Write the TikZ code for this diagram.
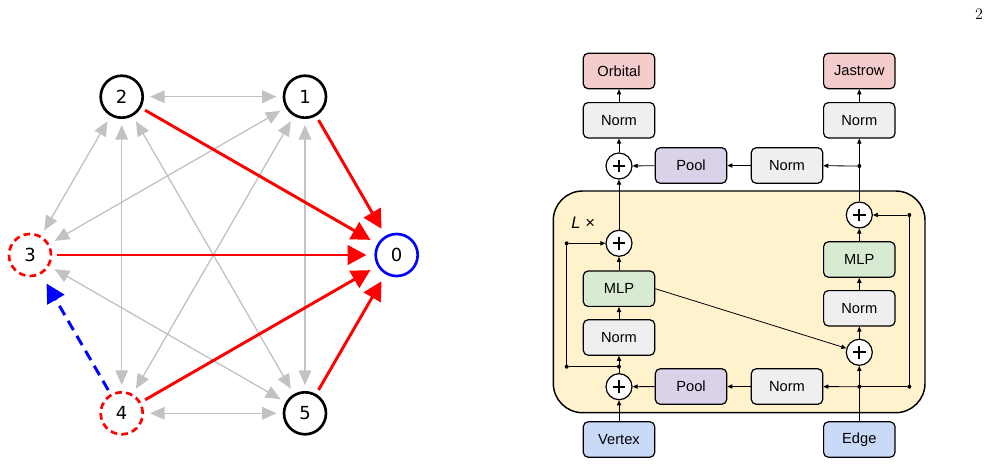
\documentclass[tikz,border=0pt]{standalone}
\usepackage{fontspec}
\newfontfamily\arialf{Liberation Sans}
\newfontfamily\dejavu{DejaVu Sans}
\usetikzlibrary{arrows.meta,calc}
\definecolor{cOrb}{HTML}{F4CCCC}
\definecolor{cNorm}{HTML}{EFEFEF}
\definecolor{cPool}{HTML}{D9D2E9}
\definecolor{cMLP}{HTML}{D9EAD3}
\definecolor{cIn}{HTML}{C9DAF8}
\definecolor{cYel}{HTML}{FFF2CC}
\definecolor{cGray}{HTML}{C2C2C2}
\definecolor{cRed}{HTML}{FF0000}
\definecolor{cBlue}{HTML}{0000FF}
\tikzset{
  gnode/.style={circle, draw=black, fill=white, line width=2pt, minimum size=31.5pt, inner sep=0pt, outer sep=0pt, font=\dejavu\fontsize{13.5}{14}\selectfont},
  rnode/.style={gnode, draw=cRed, dash pattern=on 5pt off 3.2pt},
  bnode/.style={gnode, draw=cBlue},
  gedge/.style={cGray, line width=1pt, {Triangle[length=11pt,width=9.5pt]}-{Triangle[length=11pt,width=9.5pt]}, shorten <=5.5pt, shorten >=5.5pt},
  redge/.style={cRed, line width=2.2pt, -{Triangle[length=14pt,width=14.5pt]}, shorten <=4.5pt, shorten >=7pt},
  bedge/.style={cBlue, line width=2.2pt, dash pattern=on 8pt off 5pt, -{Triangle[length=14pt,width=14.5pt]}, shorten <=4.4pt, shorten >=9pt},
  box/.style={draw=black, line width=0.9pt, rounded corners=3.5pt, minimum width=53.5pt, minimum height=26.5pt, inner sep=0pt, font=\arialf\fontsize{11}{11}\selectfont},
  plusnode/.style={circle, draw=black, fill=white, line width=0.9pt, minimum size=19.5pt, inner sep=0pt,
    path picture={\draw[line width=1.5pt] ([xshift=-4.8pt]path picture bounding box.center) -- ([xshift=4.8pt]path picture bounding box.center);
                  \draw[line width=1.5pt] ([yshift=-4.8pt]path picture bounding box.center) -- ([yshift=4.8pt]path picture bounding box.center);}},
  dot/.style={circle, fill=black, minimum size=3pt, inner sep=0pt, outer sep=0pt},
  arr/.style={black, line width=0.6pt, -{Triangle[length=3.8pt,width=3.2pt]}},
  ln/.style={black, line width=0.6pt},
}
\begin{document}
\begin{tikzpicture}[x=0.75pt,y=-0.75pt]
\path[use as bounding box] (0,0) rectangle (990,465);
% page number
\node[font=\fontsize{12}{12}\selectfont] (pg) at (979,14) {2};
% ---------- left graph ----------
\node[gnode] (n2) at (121.7,96.7) {2};
\node[gnode] (n1) at (305,96.7) {1};
\node[rnode] (n3) at (30,255) {3};
\node[bnode] (n0) at (396.7,255) {0};
\node[rnode] (n4) at (121.7,413.3) {4};
\node[gnode] (n5) at (305,413.3) {5};
\draw[gedge] (n2) -- (n1);
\draw[gedge] (n2) -- (n3);
\draw[gedge] (n1) -- (n3);
\draw[gedge] (n2) -- (n4);
\draw[gedge] (n2) -- (n5);
\draw[gedge] (n1) -- (n4);
\draw[gedge] (n1) -- (n5);
\draw[gedge] (n3) -- (n5);
\draw[gedge] (n4) -- (n5);
\draw[redge] (n1) -- (n0);
\draw[redge] (n2) -- (n0);
\draw[redge] (n3) -- (n0);
\draw[redge] (n4) -- (n0);
\draw[redge] (n5) -- (n0);
\draw[bedge] (n4) -- (n3);
% ---------- right diagram ----------
\draw[fill=cYel, line width=1.1pt, rounded corners=22pt] (553.3,191) rectangle (925,412.7);
\node[font=\arialf\fontsize{12.5}{12.5}\selectfont] (lx) at (583.3,222.7) {{\itshape L} ×};
\node[box, fill=cOrb] (orb) at (619,71) {Orbital};
\node[box, fill=cOrb] (jas) at (859.3,71) {Jastrow};
\node[box, fill=cNorm] (normTL) at (619,120.3) {Norm};
\node[box, fill=cNorm] (normTR) at (859.3,120.3) {Norm};
\node[plusnode] (plusTL) at (619,166) {};
\node[box, fill=cPool] (poolT) at (691,165.5) {Pool};
\node[box, fill=cNorm] (normMT) at (787,165.5) {Norm};
\node[dot] (dotT) at (859.3,166) {};
\node[plusnode] (plusML) at (619,243.3) {};
\node[dot] (dotML) at (566.7,243.3) {};
\node[box, fill=cMLP] (mlpL) at (619,288.7) {MLP};
\node[box, fill=cNorm] (normL) at (619,337.5) {Norm};
\node[dot] (dotLB) at (619,366.7) {};
\node[dot] (dotLL) at (566.7,366.7) {};
\node[plusnode] (plusBL) at (619,386.7) {};
\node[box, fill=cPool] (poolB) at (691,386.5) {Pool};
\node[box, fill=cNorm] (normMB) at (787,386.5) {Norm};
\node[dot] (dotBR1) at (859.3,386.7) {};
\node[dot] (dotBR2) at (909.3,386.7) {};
\node[box, fill=cIn] (vertex) at (619,439.5) {Vertex};
\node[box, fill=cIn] (edge) at (859.3,439.5) {Edge};
\node[plusnode] (plusBR) at (859.3,352.3) {};
\node[box, fill=cNorm] (normR) at (859.3,308.3) {Norm};
\node[box, fill=cMLP] (mlpR) at (859.3,259.5) {MLP};
\node[plusnode] (plusTR) at (859.3,215) {};
\node[dot] (dotTR) at (909.3,215) {};
\draw[arr] (vertex) -- (plusBL);
\draw[arr] (plusBL) -- (normL);
\draw[ln] (dotLB) -- (dotLL) -- (dotML);
\draw[arr] (dotML) -- (plusML);
\draw[arr] (normL) -- (mlpL);
\draw[arr] (mlpL) -- (plusML);
\draw[arr] (plusML) -- (plusTL);
\draw[arr] (poolT) -- (plusTL);
\draw[arr] (normMT) -- (poolT);
\draw[arr] (dotT) -- (normMT);
\draw[arr] (plusTL) -- (normTL);
\draw[arr] (normTL) -- (orb);
\draw[arr] (edge) -- (plusBR);
\draw[arr] (dotBR1) -- (normMB);
\draw[ln] (dotBR1) -- (dotBR2) -- (dotTR);
\draw[arr] (dotTR) -- (plusTR);
\draw[arr] (normMB) -- (poolB);
\draw[arr] (poolB) -- (plusBL);
\draw[arr] (mlpL.east) -- (plusBR);
\draw[arr] (plusBR) -- (normR);
\draw[arr] (normR) -- (mlpR);
\draw[arr] (mlpR) -- (plusTR);
\draw[arr] (plusTR) -- (normTR);
\draw[arr] (normTR) -- (jas);
\end{tikzpicture}
\end{document}
